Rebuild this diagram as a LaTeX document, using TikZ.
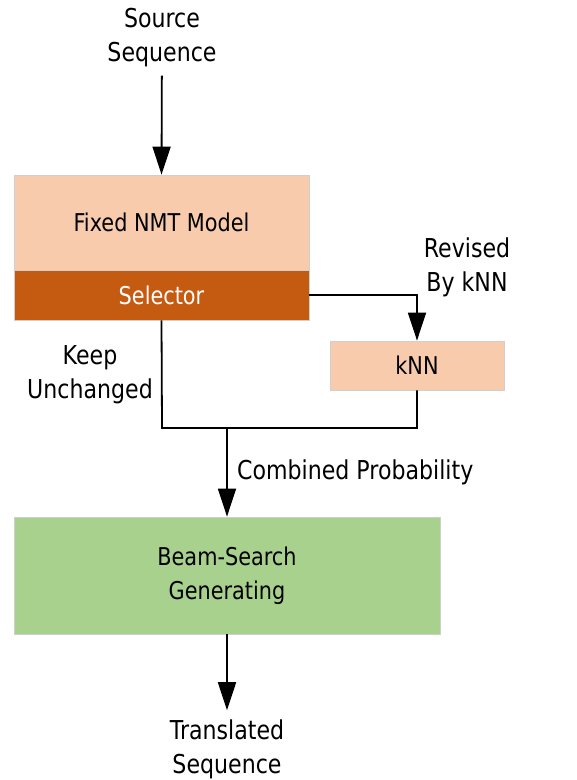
\documentclass[tikz,border=0pt]{standalone}
\usepackage{fontspec}
\setmainfont{DejaVu Sans}[FakeStretch=0.85]
\usetikzlibrary{arrows.meta}
\definecolor{lorange}{HTML}{F8CBAD}
\definecolor{dorange}{HTML}{C55A11}
\definecolor{lgreen}{HTML}{A9D18E}
\definecolor{bordergray}{HTML}{CFCFCF}
\tikzset{
  lbl/.style={font=\fontsize{26}{34}\selectfont, align=center, inner sep=0pt},
  boxtext/.style={font=\fontsize{24.5}{34}\selectfont, align=center},
  blk/.style={draw=bordergray, line width=0.8pt, inner sep=0pt, boxtext},
  conn/.style={line width=1.8pt, black},
  arr/.style={conn, -{Triangle[width=18pt,length=28pt]}},
}
\begin{document}
\begin{tikzpicture}[x=1pt,y=-1pt]
\useasboundingbox (0,0) rectangle (577,780);
\fill[white] (0,0) rectangle (577,780);
% boxes
\node[blk, fill=lorange, minimum width=295pt, minimum height=95pt] (fixed) at (161.5,222.5) {Fixed NMT Model};
\node[blk, fill=dorange, text=white, minimum width=295pt, minimum height=50pt] (sel) at (161.5,295) {Selector};
\node[blk, fill=lorange, minimum width=174pt, minimum height=49pt] (knn) at (417,365.5) {kNN};
\node[blk, fill=lgreen, minimum width=426pt, minimum height=117pt] (beam) at (227,575.5) {Beam-Search\\Generating};
% labels
\node[lbl] (src) at (162,38) {Source\\Sequence};
\node[lbl] (keep) at (90,375) {Keep\\Unchanged};
\node[lbl] (rev) at (467,267.5) {Revised\\By kNN};
\node[lbl, anchor=base west] (comb) at (237,479) {Combined Probability};
\node[lbl] (trans) at (227,749) {Translated\\Sequence};
% junction coordinates
\coordinate (jl) at (162,428);
\coordinate (jm) at (227,428);
\coordinate (jr) at (417,428);
% connectors
\draw[arr, shorten <=8pt] (src) -- (fixed.north);
\draw[arr] (sel.east) -| (knn.north);
\draw[conn] (sel.south) -- (jl) -- (jr) -- (knn.south);
\draw[arr] (jm) -- (beam.north);
\draw[arr, shorten >=9pt] (beam.south) -- (trans);
\end{tikzpicture}
\end{document}
